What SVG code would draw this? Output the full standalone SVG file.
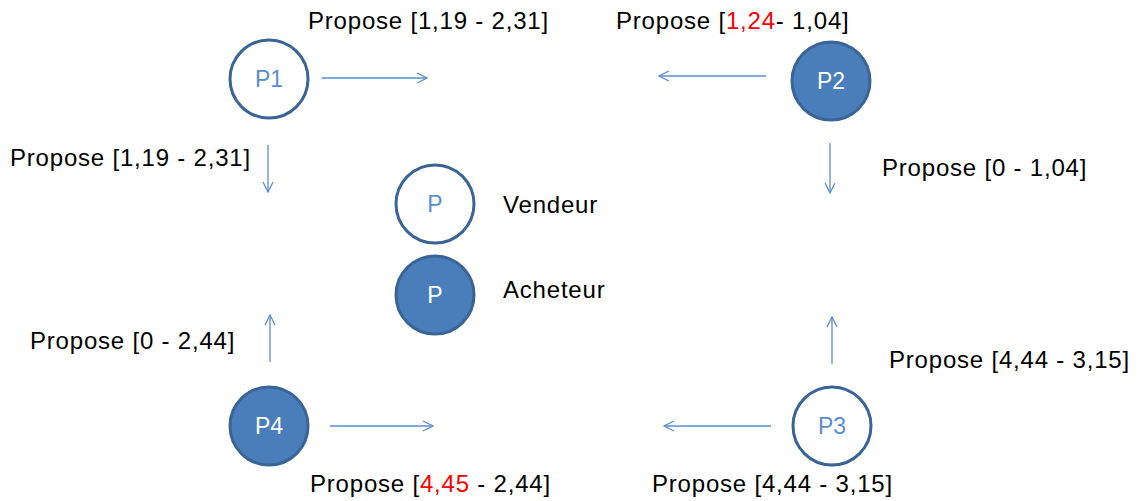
<svg xmlns="http://www.w3.org/2000/svg" width="1144" height="501" viewBox="0 0 1144 501">
<style>
.lbl{font-family:"Liberation Sans",Arial,sans-serif;font-size:24px;letter-spacing:0.8px;fill:#000}
.red{fill:#FF0000}
.nt{font-family:"Liberation Sans",Arial,sans-serif;font-size:23px;text-anchor:middle}
.sell circle{fill:#fff;stroke:#3B6496;stroke-width:3}
.sell text{fill:#5B8ED0}
.buy circle{fill:#4A7EBB;stroke:#3B6496;stroke-width:3}
.buy text{fill:#fff}
.conn line{stroke:#5B8ED0;stroke-width:1.3;fill:none;marker-end:url(#ah)}
</style>
<defs>
<marker id="ah" viewBox="0 0 12 12" refX="11" refY="6" markerWidth="12" markerHeight="12" markerUnits="userSpaceOnUse" orient="auto">
<path d="M1,1 L11,6 L1,11" fill="none" stroke="#5B8ED0" stroke-width="1.3"/>
</marker>
</defs>
<rect width="1144" height="501" fill="#fff"/>
<g id="P1" class="sell"><circle cx="269" cy="79" r="39"/><text class="nt" x="269" y="87">P1</text></g>
<g id="P2" class="buy"><circle cx="831" cy="81" r="39"/><text class="nt" x="831" y="89">P2</text></g>
<g id="P3" class="sell"><circle cx="832" cy="426" r="39"/><text class="nt" x="832" y="434">P3</text></g>
<g id="P4" class="buy"><circle cx="269" cy="426" r="39"/><text class="nt" x="269" y="434">P4</text></g>
<g id="legend-vendeur" class="sell"><circle cx="435" cy="204" r="39"/><text class="nt" x="435" y="212">P</text></g>
<g id="legend-acheteur" class="buy"><circle cx="435" cy="295" r="39"/><text class="nt" x="435" y="303">P</text></g>
<g id="connectors" class="conn">
<line x1="322" y1="78" x2="427" y2="78"/>
<line x1="766" y1="76" x2="659" y2="76"/>
<line x1="268" y1="145" x2="268" y2="192"/>
<line x1="830" y1="143" x2="830" y2="193"/>
<line x1="270" y1="362" x2="270" y2="315"/>
<line x1="330" y1="426" x2="433" y2="426"/>
<line x1="832" y1="364" x2="832" y2="317"/>
<line x1="771" y1="426" x2="664" y2="426"/>
</g>
<g id="labels">
<text class="lbl" x="308" y="29">Propose [1,19 - 2,31]</text>
<text class="lbl" x="616" y="29">Propose [<tspan class="red">1,24</tspan>- 1,04]</text>
<text class="lbl" x="10" y="166">Propose [1,19 - 2,31]</text>
<text class="lbl" x="882" y="176">Propose [0 - 1,04]</text>
<text class="lbl" x="503" y="213">Vendeur</text>
<text class="lbl" x="503" y="298">Acheteur</text>
<text class="lbl" x="30" y="349">Propose [0 - 2,44]</text>
<text class="lbl" x="889" y="368">Propose [4,44 - 3,15]</text>
<text class="lbl" x="310" y="492">Propose [<tspan class="red">4,45</tspan> - 2,44]</text>
<text class="lbl" x="652" y="492">Propose [4,44 - 3,15]</text>
</g>
</svg>
